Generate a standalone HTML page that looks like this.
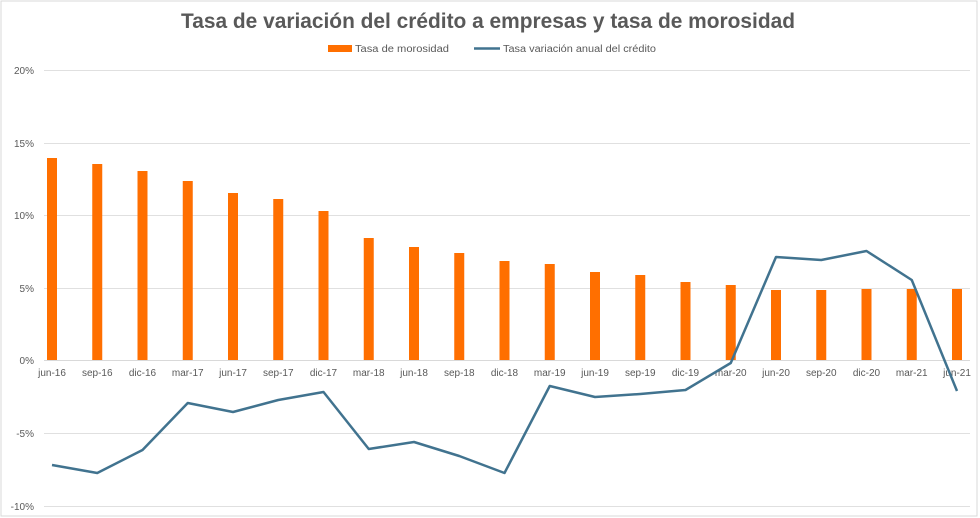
<!DOCTYPE html>
<html><head><meta charset="utf-8"><style>
body{margin:0;background:#fff;}
svg{display:block;font-family:"Liberation Sans",sans-serif;}
</style></head><body>
<svg width="980" height="518" viewBox="0 0 980 518">
<rect x="1" y="1" width="976" height="515" fill="#fff" stroke="#d9d9d9"/>
<text x="181" y="28" font-size="21" font-weight="bold" fill="#595959" textLength="614" lengthAdjust="spacingAndGlyphs">Tasa de variación del crédito a empresas y tasa de morosidad</text>
<rect x="328" y="45" width="24" height="7" fill="#ff6f00"/>
<text x="355" y="52" font-size="10" fill="#595959" textLength="94" lengthAdjust="spacingAndGlyphs">Tasa de morosidad</text>
<line x1="474" y1="48.5" x2="500" y2="48.5" stroke="#41738f" stroke-width="2.5"/>
<text x="503" y="52" font-size="10" fill="#595959" textLength="153" lengthAdjust="spacingAndGlyphs">Tasa variación anual del crédito</text>
<g stroke="#e0e0e0" stroke-width="1">
<line x1="44" y1="70.5" x2="970" y2="70.5"/>
<line x1="44" y1="143.5" x2="970" y2="143.5"/>
<line x1="44" y1="215.5" x2="970" y2="215.5"/>
<line x1="44" y1="288.5" x2="970" y2="288.5"/>
<line x1="44" y1="433.5" x2="970" y2="433.5"/>
<line x1="44" y1="506.5" x2="970" y2="506.5"/>
</g>
<g font-size="10" fill="#595959" text-anchor="end">
<text x="34" y="74">20%</text><text x="34" y="147">15%</text><text x="34" y="219">10%</text>
<text x="34" y="292">5%</text><text x="34" y="364">0%</text><text x="34" y="437">-5%</text><text x="34" y="510">-10%</text>
</g>
<g id="bars" fill="#ff6f00"></g>
<line x1="44" y1="360.5" x2="970" y2="360.5" stroke="#d9d9d9"/>
<g id="labels" font-size="10" fill="#595959" text-anchor="middle"></g>
<polyline id="ln" fill="none" stroke="#41738f" stroke-width="2.5" stroke-linejoin="round"/>
</svg>
<script>
var tops=[158,164,171,181,193,199,211,238,247,253,261,264,272,275,282,285,290,290,289,289,289];
var ly=[465,473,450,403,412,400,392,449,442,456,473,386,397,394,390,363,257,260,251,280,391];
var labs=["jun-16","sep-16","dic-16","mar-17","jun-17","sep-17","dic-17","mar-18","jun-18","sep-18","dic-18","mar-19","jun-19","sep-19","dic-19","mar-20","jun-20","sep-20","dic-20","mar-21","jun-21"];
var ns="http://www.w3.org/2000/svg",b=document.getElementById("bars"),l=document.getElementById("labels"),pts=[];
for(var i=0;i<21;i++){var x=52+i*45.25;
var r=document.createElementNS(ns,"rect");r.setAttribute("x",x-5);r.setAttribute("y",tops[i]);r.setAttribute("width",10);r.setAttribute("height",360-tops[i]);b.appendChild(r);
var t=document.createElementNS(ns,"text");t.setAttribute("x",x);t.setAttribute("y",376);t.textContent=labs[i];l.appendChild(t);
pts.push(x+","+ly[i]);}
document.getElementById("ln").setAttribute("points",pts.join(" "));
</script>
</body></html>
